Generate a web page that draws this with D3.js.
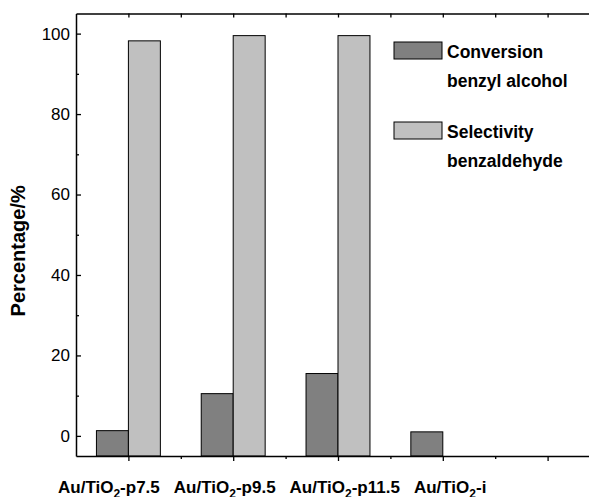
<!DOCTYPE html>
<html>
<head>
<meta charset="utf-8">
<script src="https://cdn.jsdelivr.net/npm/d3@7/dist/d3.min.js"></script>
<style>
  body { margin: 0; background: #fff; }
  text { font-family: "Liberation Sans", Arial, sans-serif; }
</style>
</head>
<body>
<svg id="chart" width="589" height="497"></svg>
<script>
// samples on the x axis (5th slot is empty in the original figure)
const categories = ["Au/TiO2-p7.5", "Au/TiO2-p9.5", "Au/TiO2-p11.5", "Au/TiO2-i", ""];
const conversion = [1.3, 10.5, 15.5, 1.0, null];
const selectivity = [98.2, 99.5, 99.5, null, null];
const seriesNames = [["Conversion", "benzyl alcohol"], ["Selectivity", "benzaldehyde"]];
const seriesColors = ["#808080", "#c0c0c0"];
const yTicks = [0, 20, 40, 60, 80, 100];
const yMinorTicks = [10, 30, 50, 70, 90];

const svg = d3.select("#chart");
const plotLeft = 76, plotTop = 13.5, plotBottom = 456;

const x = d3.scaleLinear().domain([0.5, categories.length + 0.5]).range([plotLeft, 600]);
const y = d3.scaleLinear().domain([-5, 105]).range([plotBottom, plotTop]);
const step = x(2) - x(1);
const barW = step * 0.305;

// bars
const series = [conversion, selectivity];
series.forEach((vals, s) => {
  svg.append("g").selectAll("rect")
    .data(vals.map((v, i) => ({v, i: i + 1})).filter(d => d.v != null))
    .join("rect")
      .attr("x", d => x(d.i) + (s === 0 ? -barW : 0))
      .attr("y", d => y(d.v))
      .attr("width", barW)
      .attr("height", d => y(-5) - y(d.v))
      .attr("fill", seriesColors[s])
      .attr("stroke", "#000")
      .attr("stroke-width", 1);
});

function styleAxis(g) {
  g.select(".domain").attr("stroke", "#000").attr("stroke-width", 1.5);
  g.selectAll(".tick line").attr("stroke", "#000").attr("stroke-width", 1.3);
}

const halves = d3.range(1, categories.length + 0.5, 0.5);

// top axis: ticks inward
svg.append("g").attr("transform", `translate(0,${plotTop})`)
  .call(d3.axisTop(x).tickValues(halves).tickSize(-4).tickSizeOuter(0).tickFormat(""))
  .call(styleAxis);

// bottom axis: major ticks at samples, minor between
svg.append("g").attr("transform", `translate(0,${plotBottom})`)
  .call(d3.axisBottom(x).tickValues(d3.range(1, categories.length + 1)).tickSize(5).tickSizeOuter(0).tickFormat(""))
  .call(styleAxis);
svg.append("g").attr("transform", `translate(0,${plotBottom})`)
  .call(d3.axisBottom(x).tickValues(halves.filter(v => v % 1)).tickSize(3).tickSizeOuter(0).tickFormat(""))
  .call(g => g.select(".domain").remove())
  .call(styleAxis);

// left axis
svg.append("g").attr("transform", `translate(${plotLeft},0)`)
  .call(d3.axisLeft(y).tickValues(yTicks).tickSize(-5).tickSizeOuter(0).tickPadding(6))
  .call(styleAxis)
  .call(g => g.selectAll(".tick text").attr("font-size", 17).attr("fill", "#000")
    .attr("font-family", "Liberation Sans, Arial, sans-serif"));
svg.append("g").attr("transform", `translate(${plotLeft},0)`)
  .call(d3.axisLeft(y).tickValues(yMinorTicks).tickSize(-3).tickSizeOuter(0).tickFormat(""))
  .call(g => g.select(".domain").remove())
  .call(styleAxis);

// y title
svg.append("text")
  .attr("transform", `translate(25,${y(46)}) rotate(-90)`)
  .attr("text-anchor", "middle")
  .attr("font-size", 20).attr("font-weight", "bold")
  .text("Percentage/%");

// x labels: written as one row in the original, so flow them left to right
let cursor = plotLeft - 18;
categories.filter(c => c).forEach(c => {
  const m = c.match(/^(.*?)(\d)(-.*)$/);
  const t = svg.append("text").attr("x", cursor).attr("y", 493)
    .attr("font-size", 17).attr("font-weight", "bold");
  t.append("tspan").text(m[1]);
  t.append("tspan").attr("font-size", 12).attr("dy", 5).text(m[2]);
  t.append("tspan").attr("dy", -5).text(m[3]);
  cursor += t.node().getComputedTextLength() + 14;
});

// legend
seriesNames.forEach((lines, s) => {
  const g = svg.append("g").attr("transform", `translate(394,${42 + s * 80})`);
  g.append("rect").attr("width", 48).attr("height", 17)
    .attr("fill", seriesColors[s]).attr("stroke", "#000").attr("stroke-width", 1);
  g.selectAll("text").data(lines).join("text")
    .attr("x", 53).attr("y", (d, i) => 16 + i * 29)
    .attr("font-size", 17.5).attr("font-weight", "bold")
    .text(d => d);
});
</script>
</body>
</html>
